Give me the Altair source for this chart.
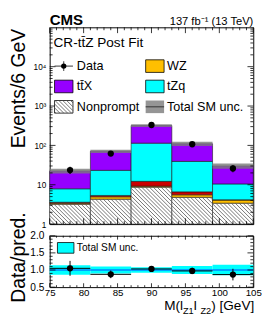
import math
import altair as alt
import pandas as pd

# ---------------- data ----------------
bin_lo = [75, 81, 87, 93, 99]
bin_hi = [81, 87, 93, 99, 105]
nonprompt = [3.2, 4.3, 8.7, 4.8, 3.4]
wz = [0.2, 0.65, 0.5, 0.75, 0.7]
other = [0.2, 0.4, 3.0, 1.05, 0.05]
tzq = [4.3, 17.9, 101.8, 32.7, 6.35]
ttx = [14.6, 47.7, 206.0, 70.7, 19.5]
data = [23.6, 62.0, 330.0, 107.0, 26.0]
data_err = [4.9, 7.9, 18.2, 10.3, 5.1]
unc_rel = [0.14, 0.10, 0.08, 0.12, 0.15]

x_tick_labels = [75, 80, 85, 90, 95, 100, 105]
y_tick_values = [1, 10, 100, 1000, 10000]
y_tick_labels = ["1", "10", "10²", "10³", "10⁴"]
ratio_tick_values = [0.5, 1.0, 1.5, 2.0]

comp_names = ["Nonprompt", "WZ", "Other", "tZq", "ttX"]
comp_values = [nonprompt, wz, other, tzq, ttx]
comp_colors = ["#ffffff", "#ffbf00", "#cc0000", "#00ffff", "#9600ff"]

FONT = "Liberation Sans, Arial, Helvetica, sans-serif"
W, H, HR = 210, 203, 53
XMIN, XMAX = 75, 105
YMIN, YMAX = 1.0, 1e5
RMIN, RMAX = 0.5, 2.0

xs = alt.Scale(domain=[XMIN, XMAX], nice=False, zero=False)
ys = alt.Scale(type="log", domain=[YMIN, YMAX], nice=False)
rs = alt.Scale(domain=[RMIN, RMAX], nice=False, zero=False)

yaxis_main = alt.Axis(
    values=y_tick_values,
    labelExpr="[" + ",".join("'%s'" % s for s in y_tick_labels) + "][round(log(datum.value)/LN10)]",
    ticks=False, domain=False, grid=False, labelFontSize=8.5, labelPadding=4,
    labelFlush=False, labelOverlap=False,
    title="Events/6 GeV", titleFontSize=20, titleAngle=270, titleAlign="right",
    titleBaseline="alphabetic", titleX=-26, titleY=1)
yaxis_ratio = alt.Axis(
    values=ratio_tick_values, format=".1f", ticks=False, domain=False, grid=False,
    labelFontSize=10.5, labelPadding=6, labelFlush=False, labelOverlap=False,
    title="Data/pred.", titleFontSize=20, titleAngle=270, titleAlign="center",
    titleBaseline="alphabetic", titleX=-26, titleY=22)
xaxis_ratio = alt.Axis(
    values=x_tick_labels, format="d", ticks=False, domain=False, grid=False,
    labelFontSize=10, labelPadding=1, labelFlush=False, labelOverlap=False, title=None)

PANEL = {"main": (ys, yaxis_main, None), "ratio": (rs, yaxis_ratio, xaxis_ratio)}


def xd(px):
    return XMIN + (XMAX - XMIN) * px / W


def yd(py):
    return 10 ** (math.log10(YMIN) + (1 - py / H) * (math.log10(YMAX) - math.log10(YMIN)))


def ypx(v):
    return H * (1 - (math.log10(v) - math.log10(YMIN)) / (math.log10(YMAX) - math.log10(YMIN)))


def rd(py):
    return RMAX - (RMAX - RMIN) * py / HR


dummy = pd.DataFrame({"a": [0]})


def text(t, px, py, size=12, align="left", baseline="middle", weight="normal"):
    return alt.Chart(dummy).mark_text(
        text=t, align=align, baseline=baseline, fontSize=size, font=FONT,
        fontWeight=weight, color="black"
    ).encode(x=alt.value(px), y=alt.value(py))


def enc_xy(panel):
    sc, ya, xa = PANEL[panel]
    return (alt.X("x:Q", scale=xs, axis=xa), alt.Y("y:Q", scale=sc, axis=ya))


def rules(df, panel, color="black", width=1.0):
    X, Y = enc_xy(panel)
    return alt.Chart(df).mark_rule(color=color, strokeWidth=width).encode(
        x=X, x2="x2:Q", y=Y, y2="y2:Q")


def rects(df, panel, stroke="black", sw=0.6, opacity=1.0):
    X, Y = enc_xy(panel)
    kw = dict(strokeWidth=sw, opacity=opacity)
    if stroke:
        kw["stroke"] = stroke
    return alt.Chart(df).mark_rect(**kw).encode(
        x=X, x2="x2:Q", y=Y, y2="y2:Q", fill=alt.Fill("c:N", scale=None))


def points(df, panel, size=42):
    X, Y = enc_xy(panel)
    return alt.Chart(df).mark_circle(size=size, color="black", opacity=1).encode(x=X, y=Y)


def hatch_segments(boxes, step=4.0):
    # boxes in pixel space: (xa, xb, ytop, ybot); lines y = x + c
    segs = []
    c = -W - 20.0
    while c < H + 20:
        for xa, xb, yt, yb in boxes:
            x1 = max(xa, yt - c)
            x2 = min(xb, yb - c)
            if x2 > x1 + 0.05:
                segs.append((x1, x1 + c, x2, x2 + c))
        c += step
    return segs


# ---------------- main panel ----------------
stack_rows = []
for i in range(len(bin_lo)):
    base = YMIN
    for name, vals, col in zip(comp_names, comp_values, comp_colors):
        top = base + vals[i] if name != "Nonprompt" else vals[i]
        stack_rows.append(dict(x=bin_lo[i], x2=bin_hi[i], y=base, y2=top, c=col))
        base = top
pred = [sum(v[i] for v in comp_values) for i in range(len(bin_lo))]
stack_layer = rects(pd.DataFrame(stack_rows), "main", stroke="#1a1a1a", sw=0.6)

np_boxes = [((bin_lo[i] - XMIN) / (XMAX - XMIN) * W, (bin_hi[i] - XMIN) / (XMAX - XMIN) * W,
             ypx(nonprompt[i]), H) for i in range(len(bin_lo))]
hatch_df = pd.DataFrame([dict(x=xd(a), y=yd(b), x2=xd(c), y2=yd(d))
                         for a, b, c, d in hatch_segments(np_boxes)])
hatch_layer = rules(hatch_df, "main", color="#505050", width=0.8)

band_df = pd.DataFrame([dict(x=bin_lo[i], x2=bin_hi[i], y=pred[i] * (1 - unc_rel[i]),
                             y2=pred[i] * (1 + unc_rel[i]), c="#7a7a7a") for i in range(len(bin_lo))])
band_layer = rects(band_df, "main", stroke=None, sw=0, opacity=0.8)

centers = [(a + b) / 2 for a, b in zip(bin_lo, bin_hi)]
derr_df = pd.DataFrame(dict(x=centers, x2=centers, y=[d - e for d, e in zip(data, data_err)],
                            y2=[d + e for d, e in zip(data, data_err)]))
derr_layer = rules(derr_df, "main", width=1.2)
pts_layer = points(pd.DataFrame(dict(x=centers, y=data)), "main")

# ticks (inward, ROOT style)
tick_rows = []
for v in range(XMIN, XMAX + 1):
    L = 6 if v % 5 == 0 else 3
    tick_rows.append(dict(x=v, x2=v, y=YMIN, y2=yd(H - L)))
    tick_rows.append(dict(x=v, x2=v, y=yd(L), y2=YMAX))
for k in range(0, 5):
    for m in range(1, 10):
        v = m * 10 ** k
        L = 6 if m == 1 else 3
        tick_rows.append(dict(x=XMIN, x2=xd(L), y=v, y2=v))
        tick_rows.append(dict(x=xd(W - L), x2=XMAX, y=v, y2=v))
tick_layer = rules(pd.DataFrame(tick_rows), "main", width=0.8)

# legend
r1, r2, r3 = 40, 61, 82
bh = 6.5
lx0, lx1, rx0, rx1 = 5, 24, 99, 118
leg_boxes = pd.DataFrame([
    dict(x=xd(rx0), x2=xd(rx1), y=yd(r1 + bh), y2=yd(r1 - bh), c=comp_colors[1]),
    dict(x=xd(lx0), x2=xd(lx1), y=yd(r2 + bh), y2=yd(r2 - bh), c=comp_colors[4]),
    dict(x=xd(rx0), x2=xd(rx1), y=yd(r2 + bh), y2=yd(r2 - bh), c=comp_colors[3]),
    dict(x=xd(lx0), x2=xd(lx1), y=yd(r3 + bh), y2=yd(r3 - bh), c="#ffffff"),
])
leg_box_layer = rects(leg_boxes, "main", sw=0.8)
leg_band = pd.DataFrame([dict(x=xd(rx0), x2=xd(rx1), y=yd(r3 + bh), y2=yd(r3 - bh), c="#7a7a7a")])
leg_band_layer = rects(leg_band, "main", stroke=None, sw=0, opacity=0.8)
leg_hatch = pd.DataFrame([dict(x=xd(a), y=yd(b), x2=xd(c), y2=yd(d))
                          for a, b, c, d in hatch_segments([(lx0, lx1, r3 - bh, r3 + bh)])])
leg_hatch_layer = rules(leg_hatch, "main", color="#505050", width=0.8)
leg_lines = pd.DataFrame([
    dict(x=xd(lx0), x2=xd(lx1), y=yd(r1), y2=yd(r1)),
    dict(x=xd((lx0 + lx1) / 2), x2=xd((lx0 + lx1) / 2), y=yd(r1 - 5), y2=yd(r1 + 5)),
    dict(x=xd(rx0), x2=xd(rx1), y=yd(r3), y2=yd(r3)),
])
leg_line_layer = rules(leg_lines, "main", color="#333333", width=1)
leg_pt_layer = points(pd.DataFrame(dict(x=[xd((lx0 + lx1) / 2)], y=[yd(r1)])), "main", size=30)

main_texts = [
    text("CMS", 0, -2, size=15.5, baseline="alphabetic", weight="bold"),
    text("137 fb⁻¹ (13 TeV)", W, -2, size=11.5, align="right", baseline="alphabetic"),
    text("CR-tt\u0304Z Post Fit", 4, 20, size=14, baseline="alphabetic"),
    text("Data", 28, r1, size=13),
    text("WZ", 121, r1, size=13),
    text("tt\u0304X", 28, r2, size=13),
    text("tZq", 121, r2, size=13),
    text("Nonprompt", 28, r3, size=13),
    text("Total SM unc.", 121, r3, size=13),
]

main = alt.layer(
    stack_layer, hatch_layer, band_layer, tick_layer, derr_layer, pts_layer,
    leg_box_layer, leg_band_layer, leg_hatch_layer, leg_line_layer, leg_pt_layer,
    *main_texts
).properties(width=W, height=H)

# ---------------- ratio panel ----------------
ratio = [d / p for d, p in zip(data, pred)]
ratio_err = [e / p for e, p in zip(data_err, pred)]

rband_df = pd.DataFrame([dict(x=bin_lo[i], x2=bin_hi[i], y=1 - unc_rel[i], y2=1 + unc_rel[i], c="#00ffff")
                         for i in range(len(bin_lo))])
rband_layer = rects(rband_df, "ratio", stroke=None, sw=0)
one_layer = rules(pd.DataFrame([dict(x=XMIN, x2=XMAX, y=1.0, y2=1.0)]), "ratio", color="#0040ff", width=1)
rx_layer = rules(pd.DataFrame(dict(x=bin_lo, x2=bin_hi, y=ratio, y2=ratio)), "ratio", width=1)
ry_layer = rules(pd.DataFrame(dict(x=centers, x2=centers, y=[r - e for r, e in zip(ratio, ratio_err)],
                                   y2=[r + e for r, e in zip(ratio, ratio_err)])), "ratio", width=1)
rpts_layer = points(pd.DataFrame(dict(x=centers, y=ratio)), "ratio")

rtick_rows = []
for v in range(XMIN, XMAX + 1):
    L = 4 if v % 5 == 0 else 2
    rtick_rows.append(dict(x=v, x2=v, y=RMIN, y2=rd(HR - L)))
    rtick_rows.append(dict(x=v, x2=v, y=rd(L), y2=RMAX))
for j in range(0, 16):
    v = RMIN + 0.1 * j
    L = 6 if j % 5 == 0 else 3
    rtick_rows.append(dict(x=XMIN, x2=xd(L), y=v, y2=v))
    rtick_rows.append(dict(x=xd(W - L), x2=XMAX, y=v, y2=v))
rtick_layer = rules(pd.DataFrame(rtick_rows), "ratio", width=0.8)

rleg_layer = rects(pd.DataFrame([dict(x=xd(8), x2=xd(25), y=rd(18), y2=rd(7), c="#00ffff")]),
                   "ratio", sw=0.8)

# x title with subscripts: M(l_Z1 l_Z2) [GeV]
ARIAL = {"M": .833, "(": .333, ")": .333, "l": .222, " ": .278, "Z": .611, "1": .556, "2": .556,
         "[": .278, "]": .278, "G": .778, "e": .556, "V": .667}
pieces = [("M(l", 14, 0), ("Z1", 9.5, 3.5), (" l", 14, 0), ("Z2", 9.5, 3.5), (") [GeV]", 14, 0)]
total = sum(sum(ARIAL[ch] for ch in t) * s for t, s, _ in pieces)
xpos = W + 1 - total
title_marks = []
for t, s, dy in pieces:
    title_marks.append(text(t, xpos, 77 + dy, size=s, baseline="alphabetic"))
    xpos += sum(ARIAL[ch] for ch in t) * s

ratio_chart = alt.layer(
    rband_layer, one_layer, rtick_layer, rx_layer, ry_layer, rpts_layer, rleg_layer,
    text("Total SM unc.", 28, 16, size=10.5, baseline="alphabetic"),
    *title_marks
).properties(width=W, height=HR)

chart = alt.vconcat(main, ratio_chart, spacing=12, bounds="flush").properties(
    padding=0,
).configure_view(stroke="black", strokeWidth=1).configure_axis(
    labelFont=FONT, titleFont=FONT, labelColor="black", titleColor="black",
    titleFontWeight="normal")

chart.save("out.html", embed_options={"renderer": "svg", "actions": False})
